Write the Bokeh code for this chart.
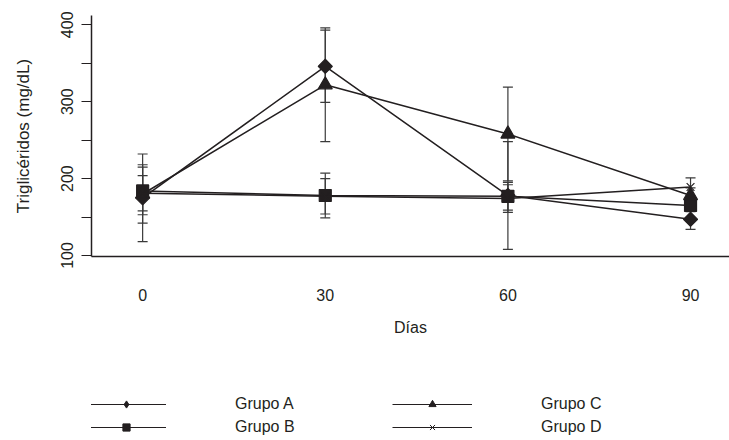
import numpy as np
from bokeh.plotting import figure
from bokeh.layouts import column
from bokeh.models import (ColumnDataSource, Whisker, TeeHead, FixedTicker, Legend,
                          LegendItem, Range1d)
from bokeh.embed import file_html
from bokeh.resources import INLINE

# ---- data ----
days = [0, 30, 60, 90]
x_ticks = [0, 30, 60, 90]
y_ticks = [100, 150, 200, 250, 300, 350, 400]
y_labels = {100: "100", 150: "", 200: "200", 250: "", 300: "300", 350: "", 400: "400"}

groups = ["Grupo A", "Grupo B", "Grupo C", "Grupo D"]
mean_a = [175, 346, 178, 147]
sd_a = [57, 47, 70, 13]
mean_b = [184, 178, 177, 165]
sd_b = [31, 29, 18, 8]
mean_c = [180, 322, 258, 178]
sd_c = [38, 74, 61, 10]
mean_d = [181, 177, 174, 189]
sd_d = [23, 23, 18, 12]

INK = "#231f20"
FONT = "Liberation Sans"

p = figure(width=729, height=345, output_backend="svg", toolbar_location=None,
           x_range=Range1d(-8.4, 96.4), y_range=Range1d(98.7, 412.1),
           min_border_left=91, min_border_right=0, min_border_top=15,
           min_border_bottom=89)
p.grid.visible = False
p.outline_line_color = None

# legend-only figure
pl = figure(width=729, height=95, output_backend="svg", toolbar_location=None,
            x_range=Range1d(0, 1), y_range=Range1d(0, 1),
            x_axis_location=None, y_axis_location=None,
            min_border_left=0, min_border_right=0, min_border_top=0,
            min_border_bottom=0)
pl.grid.visible = False
pl.outline_line_color = None

styles = [
    # plot marker, size, angle, legend marker, legend size
    (mean_a, sd_a, "square", 10, np.pi / 4, "diamond", 8),
    (mean_b, sd_b, "square", 12, 0, "square", 8),
    (mean_c, sd_c, "triangle", 14, 0, "triangle", 9),
    (mean_d, sd_d, "x", 11, 0, "x", 13),
]

# placeholder source (off-range) so legend glyphs have style values
dummy = ColumnDataSource(dict(x=[np.nan], y=[np.nan]))
items = []
for name, (m, s, marker, size, angle, lmarker, lsize) in zip(groups, styles):
    m = np.array(m, dtype=float)
    s = np.array(s, dtype=float)
    src = ColumnDataSource(dict(x=days, y=m, upper=m + s, lower=m - s))
    w = Whisker(base="x", upper="upper", lower="lower", source=src, dimension="height",
                line_color="#3a3a3a", line_width=1.2,
                upper_head=TeeHead(size=10, line_color="#3a3a3a", line_width=1.2),
                lower_head=TeeHead(size=10, line_color="#3a3a3a", line_width=1.2))
    p.add_layout(w)
    p.line("x", "y", source=src, line_color=INK, line_width=1.5)
    p.scatter("x", "y", source=src, marker=marker, size=size, angle=angle,
              fill_color=INK, line_color=INK, line_width=1.2)
    lr = pl.line("x", "y", source=dummy, line_color=INK, line_width=1)
    sr = pl.scatter("x", "y", source=dummy, marker=lmarker, size=lsize,
                    fill_color=INK, line_color=INK, line_width=1)
    items.append(LegendItem(label=name, renderers=[lr, sr]))

legend = Legend(items=items, location=(-5, 4), orientation="vertical", ncols=2,
                glyph_width=80, glyph_height=18, label_height=18, label_standoff=69,
                label_width=152, spacing=5, padding=0, margin=0,
                border_line_color=None, background_fill_alpha=0,
                label_text_font=FONT, label_text_font_size="16px",
                label_text_color=INK)
pl.add_layout(legend, "center")

# x axis
xa = p.xaxis[0]
xa.ticker = FixedTicker(ticks=x_ticks)
xa.minor_tick_line_color = None
xa.major_tick_line_color = None
xa.major_tick_out = 0
xa.major_tick_in = 0
xa.major_label_standoff = 32
xa.axis_line_color = INK
xa.axis_line_width = 1.5
xa.axis_label = "Días"
xa.axis_label_standoff = 15
xa.axis_label_text_font_style = "normal"
xa.axis_label_text_font = FONT
xa.axis_label_text_font_size = "16px"
xa.axis_label_text_color = INK
xa.major_label_text_font = FONT
xa.major_label_text_font_size = "16px"
xa.major_label_text_color = INK

# y axis
ya = p.yaxis[0]
ya.ticker = FixedTicker(ticks=y_ticks, minor_ticks=[])
ya.major_label_overrides = y_labels
ya.major_label_orientation = "vertical"
ya.major_tick_out = 10
ya.major_tick_in = 0
ya.major_tick_line_color = INK
ya.major_label_standoff = 8
ya.axis_line_color = INK
ya.axis_line_width = 1.5
ya.axis_label = "Triglicéridos (mg/dL)"
ya.axis_label_standoff = 26
ya.axis_label_text_font_style = "normal"
ya.axis_label_text_font = FONT
ya.axis_label_text_font_size = "17px"
ya.axis_label_text_color = INK
ya.major_label_text_font = FONT
ya.major_label_text_font_size = "16px"
ya.major_label_text_color = INK

open("out.html", "w").write(file_html(column(p, pl, spacing=0), INLINE))
